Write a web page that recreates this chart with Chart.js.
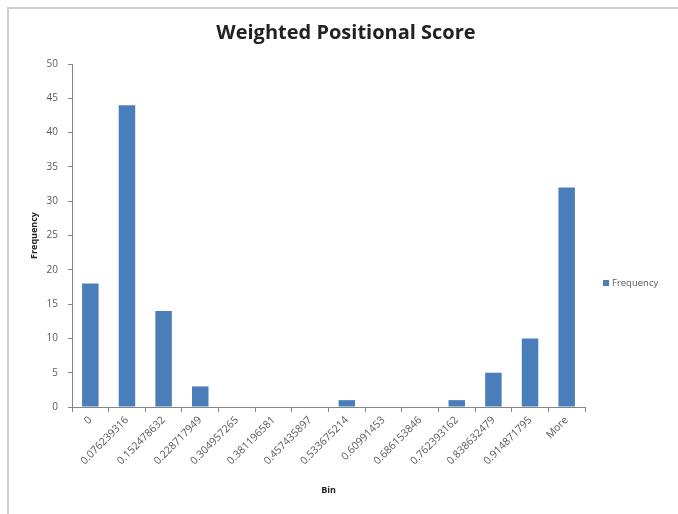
<!DOCTYPE html>
<html>
<head>
<meta charset="utf-8">
<script src="https://cdn.jsdelivr.net/npm/chart.js@4/dist/chart.umd.min.js"></script>
<style>
  html, body { margin: 0; padding: 0; background: #fff; }
  #frame { position: absolute; left: 7px; top: 7px; width: 680px; height: 520px; border-left: 2px solid #cfcfcf; border-top: 2px solid #cfcfcf; box-sizing: border-box; }
  #wrap { position: absolute; left: 0; top: 0; width: 678px; height: 514px; }
</style>
</head>
<body>
<div id="frame"></div>
<div id="wrap"><canvas id="c" width="678" height="514"></canvas></div>
<script>
// Histogram bins of the weighted positional score
const bins = ["0", "0.076239316", "0.152478632", "0.228717949", "0.304957265", "0.381196581",
  "0.457435897", "0.533675214", "0.60991453", "0.686153846", "0.762393162", "0.838632479",
  "0.914871795", "More"];
const frequency = [18, 44, 14, 3, 0, 0, 0, 1, 0, 0, 1, 5, 10, 32];
const yTicks = [0, 5, 10, 15, 20, 25, 30, 35, 40, 45, 50];
const chartTitle = 'Weighted Positional Score';

const axisGray = '#868686';
const textGray = '#595959';
const barBlue = '#4a7ebb';

// Title centred across the whole page, legend entry to the right of the plot
const decorations = {
  id: 'decorations',
  afterDraw(chart) {
    const ctx = chart.ctx;
    const ds = chart.data.datasets[0];
    ctx.save();
    ctx.fillStyle = '#222';
    ctx.font = 'bold 20px "Open Sans"';
    ctx.textAlign = 'center';
    ctx.textBaseline = 'middle';
    ctx.fillText(chartTitle, 346, 33);

    ctx.fillStyle = ds.backgroundColor;
    ctx.fillRect(603, 280, 6, 6);
    ctx.fillStyle = textGray;
    ctx.font = '9.5px "Open Sans"';
    ctx.textAlign = 'left';
    ctx.fillText(ds.label, 612, 283.5);
    ctx.restore();
  }
};

new Chart(document.getElementById('c'), {
  type: 'bar',
  data: {
    labels: bins,
    datasets: [{
      label: 'Frequency',
      data: frequency,
      backgroundColor: barBlue,
      borderWidth: 0,
      barPercentage: 0.45,
      categoryPercentage: 1.0
    }]
  },
  plugins: [decorations],
  options: {
    responsive: false,
    animation: false,
    layout: { padding: { left: 0, right: 93, top: 64, bottom: 0 } },
    plugins: {
      title: { display: false },
      legend: { display: false },
      tooltip: { enabled: false }
    },
    scales: {
      x: {
        afterFit: (axis) => { axis.height = 107; },
        grid: { display: true, drawOnChartArea: false, drawTicks: true, tickLength: 5, color: axisGray, offset: true },
        border: { display: true, color: axisGray },
        ticks: {
          color: textGray, maxRotation: 45, minRotation: 45, autoSkip: false, padding: 2,
          font: { family: 'Open Sans', size: 10.5 }
        },
        title: {
          display: true, text: 'Bin', color: '#222',
          font: { family: 'Open Sans', size: 9, weight: 'bold' },
          padding: { top: 0, bottom: 18 }
        }
      },
      y: {
        min: 0, max: 50,
        afterFit: (axis) => { axis.width = 72; },
        afterBuildTicks: (axis) => { axis.ticks = yTicks.map(v => ({ value: v })); },
        grid: { display: true, drawOnChartArea: false, drawTicks: true, tickLength: 4, color: axisGray },
        border: { display: true, color: axisGray },
        ticks: {
          color: textGray, padding: 10,
          font: { family: 'Open Sans', size: 10 }
        },
        title: {
          display: true, text: 'Frequency', color: '#222',
          font: { family: 'Open Sans', size: 9, weight: 'bold' },
          padding: { top: 29, bottom: 0 }
        }
      }
    }
  }
});
</script>
</body>
</html>
